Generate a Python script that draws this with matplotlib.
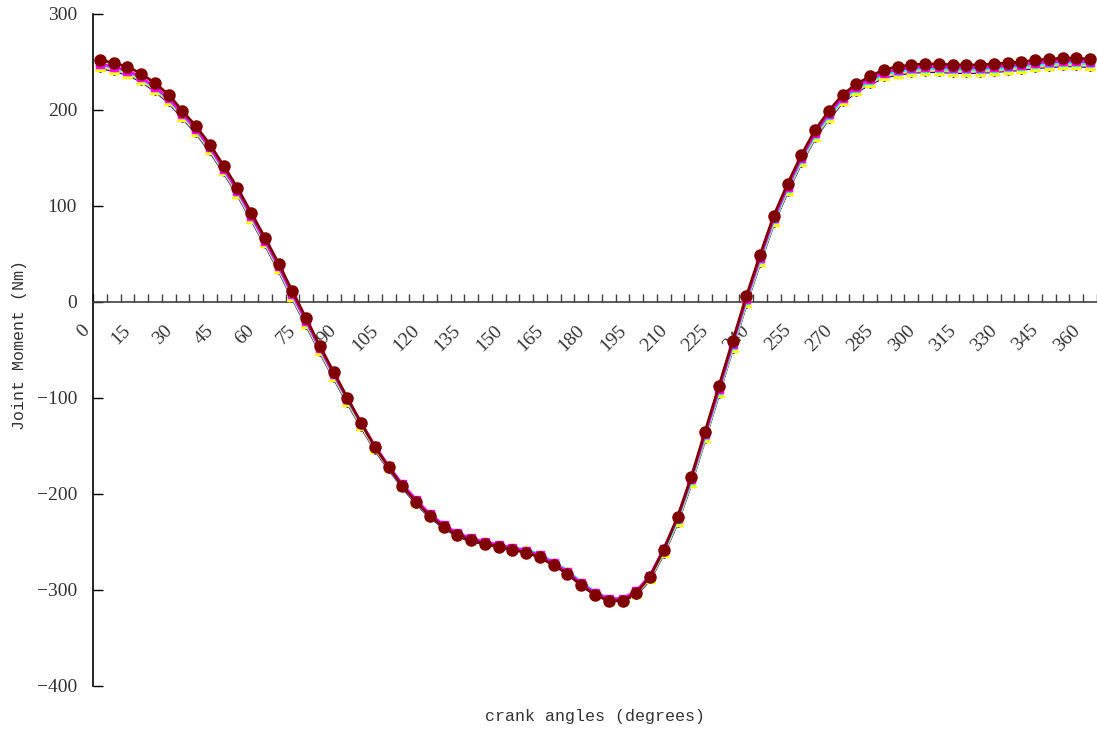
import matplotlib
matplotlib.use("Agg")
import matplotlib.pyplot as plt
from matplotlib.transforms import ScaledTranslation

# Crank angle categories (degrees) and the labels shown every 15 degrees
angles = list(range(0, 365, 5))
tick_angles = list(range(0, 365, 15))

# Joint moment (Nm) per trial
trial_navy = [244, 241, 237, 230, 220, 208, 192, 176, 157, 135,
              112, 86, 60, 33, 4, -24, -52, -79, -105, -130,
              -154, -174, -193, -210, -224, -235, -244, -249, -252, -255,
              -258, -260, -266, -274, -283, -295, -305, -311, -311, -305,
              -289, -262, -230, -189, -143, -96, -49, -2, 41, 82,
              115, 145, 171, 191, 208, 219, 227, 234, 237, 239,
              240, 240, 239, 239, 239, 240, 241, 242, 244, 245,
              246, 246, 245]
trial_pink = [245, 242, 238, 231, 221, 209, 193, 177, 158, 136,
              113, 87, 61, 34, 5, -23, -51, -78, -104, -129,
              -153, -173, -192, -209, -223, -234, -243, -248, -251, -254,
              -257, -259, -265, -273, -282, -294, -304, -310, -310, -304,
              -288, -261, -229, -188, -142, -95, -48, -1, 42, 83,
              116, 146, 172, 192, 209, 220, 228, 235, 238, 240,
              241, 241, 240, 240, 240, 241, 242, 243, 245, 246,
              247, 247, 246]
trial_yellow = [246, 243, 239, 232, 222, 210, 194, 178, 159, 137,
                114, 88, 62, 35, 6, -22, -50, -77, -103, -128,
                -152, -172, -191, -208, -222, -233, -242, -247, -250, -253,
                -256, -258, -264, -272, -281, -293, -303, -310, -310, -303,
                -287, -260, -228, -187, -141, -94, -47, 0, 43, 84,
                117, 147, 173, 193, 210, 221, 229, 236, 239, 241,
                242, 242, 241, 241, 241, 242, 243, 244, 246, 247,
                248, 248, 247]
trial_cyan = [247, 244, 240, 233, 223, 211, 195, 179, 160, 138,
              115, 89, 63, 36, 7, -21, -49, -76, -102, -127,
              -151, -171, -190, -207, -222, -233, -241, -246, -250, -253,
              -256, -258, -263, -271, -280, -292, -302, -309, -309, -302,
              -286, -259, -227, -186, -140, -93, -46, 1, 44, 85,
              118, 148, 174, 194, 211, 222, 230, 237, 240, 242,
              243, 243, 242, 242, 242, 243, 244, 245, 247, 248,
              249, 249, 248]
trial_magenta = [248, 245, 241, 234, 224, 212, 196, 180, 161, 139,
                 116, 90, 64, 37, 8, -20, -48, -75, -101, -126,
                 -150, -171, -190, -206, -221, -232, -241, -246, -250, -253,
                 -256, -259, -264, -272, -281, -293, -303, -309, -309, -301,
                 -285, -257, -225, -184, -138, -91, -44, 3, 46, 87,
                 120, 150, 176, 196, 213, 224, 232, 239, 242, 244,
                 245, 245, 244, 244, 244, 245, 246, 247, 249, 250,
                 251, 251, 250]
trial_maroon = [252, 249, 245, 238, 228, 216, 199, 183, 164, 142,
                119, 93, 67, 40, 11, -17, -46, -73, -100, -126,
                -151, -172, -192, -208, -223, -234, -243, -248, -252, -255,
                -258, -261, -266, -274, -283, -295, -305, -311, -311, -303,
                -286, -258, -224, -182, -135, -88, -41, 6, 49, 90,
                123, 153, 179, 199, 216, 227, 235, 242, 245, 247,
                248, 248, 247, 247, 247, 248, 249, 250, 252, 253,
                254, 254, 253]

series = [
    (trial_navy, "#000080", "D", 4),
    (trial_pink, "#FF99CC", "s", 6),
    (trial_yellow, "#FFFF00", "^", 7),
    (trial_cyan, "#00FFFF", "s", 5),
    (trial_magenta, "#FF00FF", "s", 6),
    (trial_maroon, "#800000", "o", 8),
]

serif = ["Liberation Serif", "DejaVu Serif"]
mono = ["Liberation Mono", "DejaVu Sans Mono"]

fig = plt.figure(figsize=(10.97, 7.32), dpi=100)
ax = fig.add_axes([93 / 1097, 1 - 686 / 732, 1 - 93 / 1097, (686 - 14) / 732])

pos = list(range(len(angles)))
for values, color, marker, ms in series:
    ax.plot(pos, values, color=color, lw=2, marker=marker, ms=ms,
            markerfacecolor=color, markeredgecolor=color, zorder=3)

ax.set_xlim(-0.5, len(angles) - 0.5)
ax.set_ylim(-400, 300)
ax.set_yticks(range(-400, 301, 100))

for side in ("top", "right"):
    ax.spines[side].set_visible(False)
ax.spines["bottom"].set_position(("data", 0))
ax.spines["bottom"].set_color("#404040")
ax.spines["bottom"].set_linewidth(1.2)
ax.spines["left"].set_linewidth(1.2)

# Category boundaries get tick marks, labels sit on every third category
ax.set_xticks([i - 0.5 for i in range(len(angles) + 1)], minor=True)
ax.set_xticks([angles.index(a) for a in tick_angles])
ax.set_xticklabels([str(a) for a in tick_angles], rotation=45,
                   ha="right", va="center", rotation_mode="anchor",
                   fontfamily=serif, fontsize=14, color="#333333")
ax.tick_params(axis="x", which="major", length=0, pad=18.5)
ax.tick_params(axis="x", which="minor", direction="in", length=6,
               width=1, color="#404040")
shift = ScaledTranslation(-13 / 100, 0, fig.dpi_scale_trans)
for lbl in ax.get_xticklabels():
    lbl.set_transform(lbl.get_transform() + shift)

ax.tick_params(axis="y", direction="in", length=7, width=1, pad=11.5,
               labelsize=14, labelcolor="#333333")
for lbl in ax.get_yticklabels():
    lbl.set_fontfamily(serif)

fig.text(595 / 1097, 1 - 717 / 732, "crank angles (degrees)", ha="center",
         va="center", fontfamily=mono, fontsize=12, color="#333333")
fig.text(20 / 1097, 1 - 345 / 732, "Joint Moment (Nm)", ha="center",
         va="center", rotation=90, fontfamily=mono, fontsize=12,
         color="#333333")

fig.savefig("out.png", dpi=100)
